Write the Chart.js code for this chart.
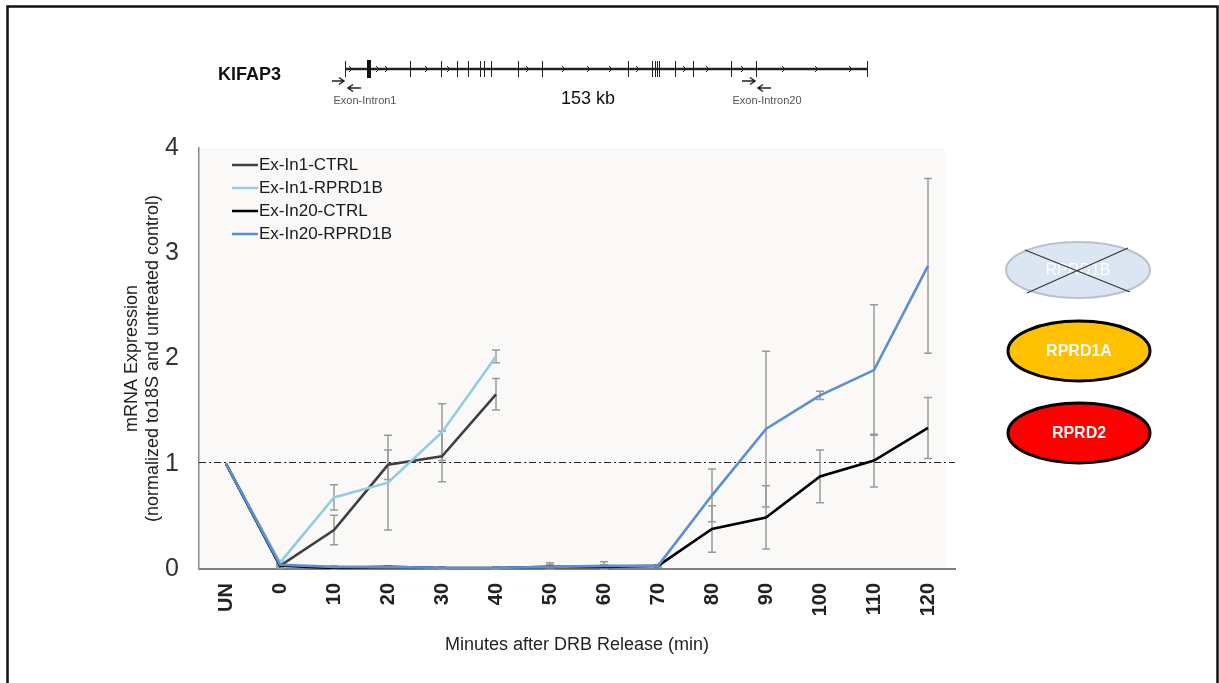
<!DOCTYPE html>
<html>
<head>
<meta charset="utf-8">
<script src="https://cdn.jsdelivr.net/npm/chart.js@4.4.0/dist/chart.umd.min.js"></script>
<style>
  body { margin: 0; background: #fff; overflow: hidden; }
  canvas { display: block; }
</style>
</head>
<body>
<canvas id="kifap3" width="1219" height="683"></canvas>
<script>
// x categories (minutes after DRB release)
const minutes = ['UN', '0', '10', '20', '30', '40', '50', '60', '70', '80', '90', '100', '110', '120'];
const yTicks = [0, 1, 2, 3, 4];

// series values
const in1Ctrl = [1.0, 0.03, 0.37, 0.99, 1.07, 1.66, null, null, null, null, null, null, null, null];
const in1Rprd = [1.0, 0.06, 0.68, 0.82, 1.30, 2.02, null, null, null, null, null, null, null, null];
const in20Ctrl = [1.0, 0.03, 0.01, 0.02, 0.01, 0.01, 0.02, 0.02, 0.03, 0.38, 0.49, 0.88, 1.03, 1.34];
const in20Rprd = [1.0, 0.04, 0.02, 0.02, 0.01, 0.01, 0.02, 0.03, 0.03, 0.70, 1.33, 1.65, 1.89, 2.88];

// error bar half widths
const in1CtrlErr = [0, 0.02, 0.14, 0.14, 0.24, 0.15, null, null, null, null, null, null, null, null];
const in1RprdErr = [0, 0.02, 0.12, 0.45, 0.27, 0.06, null, null, null, null, null, null, null, null];
const in20CtrlErr = [0, 0.01, 0.01, 0.01, 0.01, 0.01, 0.02, 0.02, 0.01, 0.22, 0.30, 0.25, 0.25, 0.29];
const in20RprdErr = [0, 0.01, 0.01, 0.01, 0.01, 0.01, 0.04, 0.04, 0.01, 0.25, 0.74, 0.04, 0.62, 0.83];

const refLevel = 1; // untreated control

const FONT = '"Liberation Sans", Arial, sans-serif';

// gene map drawing (decoration above the plot)
const exonX = [367, 410, 441, 457, 468, 480, 484, 491, 518, 542, 628, 652, 655, 657, 659, 675, 693, 731, 756];
const intronArrowX = [352, 379, 388, 428, 450, 529, 565, 590, 612, 639, 686, 709, 744, 785, 818, 852];

function arrow(ctx, x1, x2, y) {
  const dir = x2 > x1 ? 1 : -1;
  ctx.beginPath();
  ctx.moveTo(x1, y); ctx.lineTo(x2, y);
  ctx.moveTo(x2 - dir * 5, y - 3.5); ctx.lineTo(x2, y); ctx.lineTo(x2 - dir * 5, y + 3.5);
  ctx.stroke();
}

function ellipse(ctx, cx, cy, rx, ry, fill, stroke, lw) {
  ctx.beginPath();
  ctx.ellipse(cx, cy, rx, ry, 0, 0, Math.PI * 2);
  ctx.fillStyle = fill; ctx.fill();
  ctx.lineWidth = lw; ctx.strokeStyle = stroke; ctx.stroke();
}

const decor = {
  id: 'decor',
  beforeDraw(chart) {
    const ctx = chart.ctx, a = chart.chartArea;
    ctx.save();
    ctx.fillStyle = '#fff';
    ctx.fillRect(0, 0, chart.width, chart.height);
    ctx.fillStyle = '#faf9f7';
    ctx.fillRect(a.left, a.top, a.right - a.left - 10, a.bottom - a.top);
    ctx.restore();
  },
  beforeDatasetsDraw(chart) {
    const ctx = chart.ctx, a = chart.chartArea;
    const x = chart.scales.x, y = chart.scales.y;
    ctx.save();
    // reference line
    ctx.strokeStyle = '#222'; ctx.lineWidth = 1.1;
    ctx.setLineDash([7, 3, 2, 3]);
    const yr = Math.round(y.getPixelForValue(refLevel)) - 1.5;
    ctx.beginPath(); ctx.moveTo(a.left, yr); ctx.lineTo(a.right, yr); ctx.stroke();
    ctx.setLineDash([]);
    // error bars
    ctx.strokeStyle = '#9a9a9a'; ctx.lineWidth = 1.5;
    chart.data.datasets.forEach((ds, i) => {
      ds.errors.forEach((e, j) => {
        if (!e || ds.data[j] == null) return;
        const px = x.getPixelForValue(j);
        const top = y.getPixelForValue(ds.data[j] + e);
        const bot = y.getPixelForValue(Math.max(0, ds.data[j] - e));
        ctx.beginPath();
        ctx.moveTo(px, top); ctx.lineTo(px, bot);
        ctx.moveTo(px - 4, top); ctx.lineTo(px + 4, top);
        ctx.moveTo(px - 4, bot); ctx.lineTo(px + 4, bot);
        ctx.stroke();
      });
    });
    ctx.restore();
  },
  afterDraw(chart) {
    const ctx = chart.ctx, a = chart.chartArea;
    ctx.save();

    // legend in the top-left corner of the plot
    ctx.font = '17px ' + FONT;
    ctx.textBaseline = 'middle';
    chart.data.datasets.forEach((ds, i) => {
      const ly = 165 + i * 23;
      ctx.strokeStyle = ds.borderColor; ctx.lineWidth = 2.5;
      ctx.beginPath(); ctx.moveTo(a.left + 33, ly); ctx.lineTo(a.left + 59, ly); ctx.stroke();
      ctx.fillStyle = '#1a1a1a';
      ctx.fillText(ds.label, a.left + 60, ly);
    });

    // gene map
    ctx.fillStyle = '#111';
    ctx.font = 'bold 18px ' + FONT;
    ctx.textAlign = 'left';
    ctx.fillText('KIFAP3', 218, 75);
    const gy = 69;
    ctx.strokeStyle = '#222'; ctx.lineWidth = 2.4;
    ctx.beginPath(); ctx.moveTo(345, gy); ctx.lineTo(867, gy); ctx.stroke();
    ctx.lineWidth = 1;
    [345, 867].concat(exonX).forEach(ex => {
      ctx.beginPath(); ctx.moveTo(ex + 0.5, gy - 8); ctx.lineTo(ex + 0.5, gy + 8); ctx.stroke();
    });
    ctx.fillStyle = '#111';
    ctx.fillRect(367, gy - 9, 4, 18);
    intronArrowX.forEach(ix => {
      ctx.beginPath();
      ctx.moveTo(ix - 3, gy - 3); ctx.lineTo(ix, gy); ctx.lineTo(ix - 3, gy + 3);
      ctx.stroke();
    });
    ctx.lineWidth = 1.5;
    arrow(ctx, 332, 344, 81);
    arrow(ctx, 361, 348, 88);
    arrow(ctx, 742, 755, 81);
    arrow(ctx, 771, 758, 88);
    ctx.fillStyle = '#555';
    ctx.font = '11px ' + FONT;
    ctx.textAlign = 'center';
    ctx.fillText('Exon-Intron1', 365, 101);
    ctx.fillText('Exon-Intron20', 767, 101);
    ctx.fillStyle = '#111';
    ctx.font = '18px ' + FONT;
    ctx.fillText('153 kb', 588, 99);

    // protein ellipses
    ellipse(ctx, 1078, 270, 72, 28, '#dce6f2', '#b9c2cc', 2);
    ctx.fillStyle = 'rgba(255,255,255,0.9)';
    ctx.font = '16px ' + FONT;
    ctx.fillText('RPRD1B', 1078, 271);
    ctx.strokeStyle = '#333'; ctx.lineWidth = 1.2;
    ctx.beginPath();
    ctx.moveTo(1025, 250); ctx.lineTo(1130, 292);
    ctx.moveTo(1027, 293); ctx.lineTo(1128, 248);
    ctx.stroke();

    ellipse(ctx, 1079, 351, 71, 30, '#ffc000', '#000', 3);
    ellipse(ctx, 1079, 433, 71, 30, '#ff0000', '#000', 3);
    ctx.fillStyle = '#fff';
    ctx.font = 'bold 16px ' + FONT;
    ctx.fillText('RPRD1A', 1079, 352);
    ctx.fillText('RPRD2', 1079, 434);

    // frame
    ctx.strokeStyle = '#111'; ctx.lineWidth = 2.5;
    ctx.strokeRect(7.5, 6.5, 1210, 700);
    ctx.restore();
  }
};

const mk = (label, data, errors, color, order) => ({
  label, data, errors, order,
  borderColor: color, backgroundColor: color,
  borderWidth: 2.6, pointRadius: 0, tension: 0, spanGaps: false
});

new Chart(document.getElementById('kifap3'), {
  type: 'line',
  data: {
    labels: minutes,
    datasets: [
      mk('Ex-In1-CTRL', in1Ctrl, in1CtrlErr, '#404040', 3),
      mk('Ex-In1-RPRD1B', in1Rprd, in1RprdErr, '#93cddd', 2),
      mk('Ex-In20-CTRL', in20Ctrl, in20CtrlErr, '#000000', 1),
      mk('Ex-In20-RPRD1B', in20Rprd, in20RprdErr, '#5b8fcf', 0)
    ]
  },
  options: {
    responsive: false,
    animation: false,
    layout: { padding: { left: 110, top: 148, right: 264, bottom: 0 } },
    plugins: { legend: { display: false }, tooltip: { enabled: false } },
    scales: {
      x: {
        offset: true,
        grid: { display: false, drawTicks: false },
        border: { display: true, color: '#808080', width: 2 },
        ticks: {
          minRotation: 90, maxRotation: 90, padding: 14,
          color: '#222', font: { family: FONT, size: 20, weight: 'bold' }
        },
        title: {
          display: true, text: 'Minutes after DRB Release (min)',
          color: '#222', font: { family: FONT, size: 18 },
          padding: { top: 0, bottom: 27 }
        },
        afterFit: s => { s.height = 114; }
      },
      y: {
        min: 0, max: 4,
        afterBuildTicks: s => { s.ticks = yTicks.map(v => ({ value: v })); },
        grid: { display: false, drawTicks: false },
        border: { display: true, color: '#8a8a8a', width: 1.5 },
        ticks: { padding: 20, color: '#333', font: { family: FONT, size: 25 } },
        title: {
          display: true,
          text: ['mRNA Expression', '(normalized to18S and untreated control)'],
          color: '#222', font: { family: FONT, size: 18 }, padding: { top: 11, bottom: 0 }
        },
        afterFit: s => { s.width = 89; }
      }
    }
  },
  plugins: [decor]
});
</script>
</body>
</html>
